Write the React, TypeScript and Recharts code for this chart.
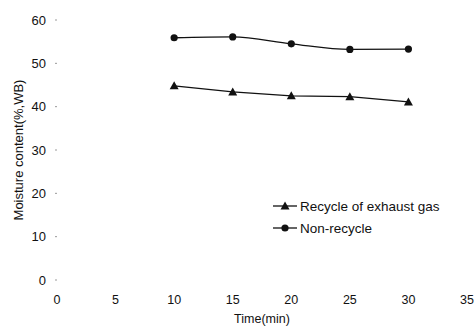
import { LineChart, Line, XAxis, YAxis } from "recharts";

const times = [10, 15, 20, 25, 30];
const recycle = [44.8, 43.4, 42.5, 42.3, 41.1];
const nonRecycle = [55.9, 56.1, 54.5, 53.2, 53.3];
const xTicks = [0, 5, 10, 15, 20, 25, 30, 35];
const yTicks = [0, 10, 20, 30, 40, 50, 60];
const seriesNames = ["Recycle of exhaust gas", "Non-recycle"];

const data = times.map((t, i) => ({ t, recycle: recycle[i], nonRecycle: nonRecycle[i] }));

const FONT = "'Liberation Sans', Arial, sans-serif";

const Triangle = (props: any) => {
  const { cx, cy } = props;
  if (cx == null || cy == null) return null;
  return <path d={`M${cx},${cy - 4.5} L${cx + 4.5},${cy + 3.5} L${cx - 4.5},${cy + 3.5} Z`} fill="#111" />;
};

const Circle = (props: any) => {
  const { cx, cy } = props;
  if (cx == null || cy == null) return null;
  return <circle cx={cx} cy={cy} r={3.6} fill="#111" />;
};

// Legende als Overlay, damit Recharts keinen Platz dafür reserviert
const LegendBox = () => (
  <svg width={200} height={50} style={{ fontFamily: FONT, position: "absolute", left: 270, top: 196 }}>
    <line x1={3} y1={10} x2={27} y2={10} stroke="#111" strokeWidth={1.3} />
    <path d="M15,5.5 L19.5,13.5 L10.5,13.5 Z" fill="#111" />
    <text x={30} y={15} fontSize={13.5} fill="#111">{seriesNames[0]}</text>
    <line x1={3} y1={32} x2={27} y2={32} stroke="#111" strokeWidth={1.3} />
    <circle cx={15} cy={32} r={3.6} fill="#111" />
    <text x={30} y={37} fontSize={13.5} fill="#111">{seriesNames[1]}</text>
  </svg>
);

export default function App() {
  return (
    <div style={{ position: "absolute", left: 0, top: 0, width: 474, height: 331, background: "#fff" }}>
      <LineChart width={474} height={331} data={data} margin={{ top: 20, right: 7, left: 0, bottom: 0 }}>
        <XAxis
          dataKey="t"
          type="number"
          domain={[0, 35]}
          ticks={xTicks}
          axisLine={false}
          tickLine={false}
          height={51}
          tickMargin={9}
          tick={{ fontSize: 12.5, fill: "#111", fontFamily: FONT }}
          label={{ value: "Time(min)", position: "insideBottom", offset: 8, style: { fontSize: 12.5, fill: "#111", fontFamily: FONT } }}
        />
        <YAxis
          type="number"
          domain={[0, 60]}
          ticks={yTicks}
          axisLine={false}
          tickLine={{ stroke: "#999", strokeWidth: 1 }}
          tickSize={2}
          width={57}
          tickMargin={9}
          tick={{ fontSize: 13, fill: "#111", fontFamily: FONT }}
          label={{ value: "Moisture content(%,WB)", angle: -90, position: "insideLeft", offset: 18, style: { fontSize: 13, fill: "#111", fontFamily: FONT, textAnchor: "middle" } }}
        />
        <Line
          dataKey="recycle"
          name={seriesNames[0]}
          type="linear"
          stroke="#111"
          strokeWidth={1.3}
          dot={<Triangle />}
          isAnimationActive={false}
        />
        <Line
          dataKey="nonRecycle"
          name={seriesNames[1]}
          type="monotone"
          stroke="#111"
          strokeWidth={1.3}
          dot={<Circle />}
          isAnimationActive={false}
        />
      </LineChart>
      <LegendBox />
    </div>
  );
}
